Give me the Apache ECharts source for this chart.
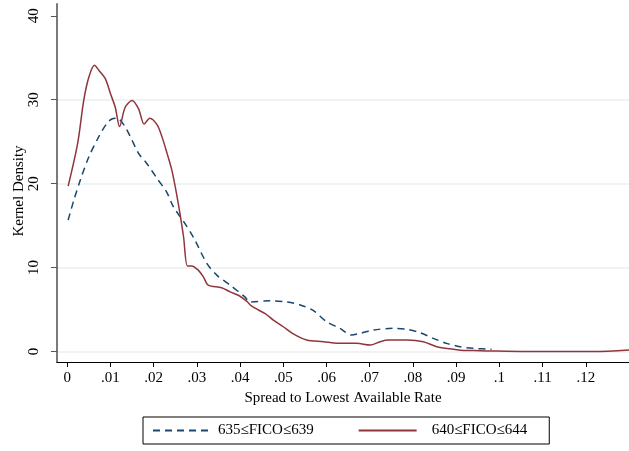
<!DOCTYPE html>
<html>
<head>
<meta charset="utf-8">
<script src="https://cdn.jsdelivr.net/npm/echarts@6/dist/echarts.min.js"></script>
<style>
html,body{margin:0;padding:0;background:#fff;}
#chart{width:629px;height:451px;}
</style>
</head>
<body>
<div id="chart"></div>
<script>
// ---- data ----
var seriesNames = ['635\u2264FICO\u2264639', '640\u2264FICO\u2264644'];

var blueX = [0.0002,0.0015,0.003,0.005,0.0073,0.0092,0.0103,0.0115,0.0131,0.0146,0.0165,0.0184,0.0208,0.023,0.0246,0.0269,0.0292,0.0323,0.0346,0.0377,0.0411,0.0423,0.0469,0.0508,0.0539,0.0569,0.06,0.0631,0.0658,0.0678,0.0708,0.0755,0.0786,0.0816,0.0847,0.0878,0.0909,0.094,0.0982];
var blueY = [15.65,18.0,20.4,23.2,25.6,27.2,27.7,27.8,27.0,25.6,23.6,22.4,20.6,19.0,17.2,15.5,13.6,10.5,9.1,7.9,6.5,5.9,6.05,5.9,5.55,4.9,3.55,2.76,1.96,2.17,2.56,2.76,2.64,2.24,1.57,0.97,0.57,0.38,0.26];

var redX = [0.0002,0.0024,0.0038,0.005,0.0063,0.0073,0.0088,0.01,0.0111,0.0121,0.0134,0.015,0.0165,0.0178,0.0191,0.0208,0.0219,0.0231,0.0242,0.0257,0.0269,0.0278,0.0288,0.0303,0.0315,0.0326,0.0357,0.0377,0.0396,0.0415,0.0427,0.0458,0.0477,0.05,0.0523,0.0554,0.0593,0.0627,0.067,0.0701,0.0724,0.0743,0.0786,0.0824,0.0855,0.0894,0.0917,0.0955,0.1063,0.1218,0.13];
var redY = [19.7,24.8,29.9,32.7,34.1,33.5,32.5,30.7,29.1,26.8,29.1,29.9,28.9,27.1,27.8,27.0,25.6,23.6,21.6,17.6,13.7,10.2,10.2,9.7,8.9,7.9,7.6,7.1,6.7,6.0,5.4,4.5,3.75,2.95,2.1,1.37,1.17,0.97,0.97,0.77,1.17,1.37,1.37,1.17,0.57,0.26,0.12,0.1,0.0,0.0,0.18];

var xTicks = [0,0.01,0.02,0.03,0.04,0.05,0.06,0.07,0.08,0.09,0.1,0.11,0.12];
var yTicks = [0,10,20,30,40];
var yGrid = [0,10,20,30];

function pairs(xs, ys){ return xs.map(function(x,i){ return [x, ys[i]]; }); }

var FONT = 'Liberation Serif';
var chart = echarts.init(document.getElementById('chart'), null, {renderer:'canvas'});
chart.setOption({
  animation: false,
  backgroundColor: '#ffffff',
  grid: {left: 57, right: 0, top: 4, bottom: 89, containLabel: false, outerBoundsMode: 'none'},
  legend: {
    left: 143, top: 417,
    orient: 'horizontal',
    padding: [6, 22, 6, 9],
    itemGap: 44,
    itemWidth: 58, itemHeight: 14,
    borderColor: '#000', borderWidth: 1,
    itemStyle: {opacity: 0},
    textStyle: {fontFamily: FONT, fontSize: 15, color: '#000', padding: [0,0,0,2]},
    data: [
      {name: seriesNames[0]},
      {name: seriesNames[1], textStyle: {padding: [0,0,0,10]}}
    ]
  },
  xAxis: {
    type: 'value',
    min: -0.00238, max: 0.13,
    name: 'Spread to Lowest Available Rate',
    nameLocation: 'middle', nameGap: 27,
    nameTextStyle: {fontFamily: FONT, fontSize: 15, color: '#000'},
    axisLine: {show: true, onZero: false, lineStyle: {color: '#000', width: 1.2}},
    axisTick: {show: true, length: 5, customValues: xTicks, lineStyle: {color: '#000'}},
    axisLabel: {
      customValues: xTicks, margin: 9,
      fontFamily: FONT, fontSize: 15, color: '#000',
      formatter: function(v){ return v === 0 ? '0' : String(+v.toFixed(4)).replace(/^0\./, '.'); }
    },
    splitLine: {show: false}
  },
  yAxis: [{
    type: 'value',
    min: -1.25, max: 41.4,
    name: 'Kernel Density',
    nameLocation: 'middle', nameGap: 30,
    nameMoveOverlap: false,
    nameTextStyle: {fontFamily: FONT, fontSize: 15, color: '#000', padding: [0, 16, 0, 0]},
    axisLine: {show: true, onZero: false, lineStyle: {color: '#7a7a7a', width: 2}},
    axisTick: {show: true, length: 6, customValues: yTicks, lineStyle: {color: '#555'}},
    axisLabel: {
      customValues: yTicks, rotate: 90, margin: 15,
      fontFamily: FONT, fontSize: 15, color: '#000'
    },
    splitLine: {show: false}
  }, {
    type: 'value',
    min: -1.25, max: 41.4,
    position: 'left',
    axisLine: {show: false, onZero: false},
    axisTick: {show: false, customValues: yGrid},
    axisLabel: {show: false, customValues: yGrid},
    splitLine: {show: true, lineStyle: {color: '#e8f0f1', width: 1.5}}
  }],
  series: [{
    name: seriesNames[0],
    type: 'line',
    data: pairs(blueX, blueY),
    showSymbol: false, symbol: 'none',
    smooth: 0.3,
    lineStyle: {color: '#1a476f', width: 1.5, type: [7, 5]},
    itemStyle: {color: '#1a476f'},
    z: 3
  }, {
    name: seriesNames[1],
    type: 'line',
    data: pairs(redX, redY),
    showSymbol: false, symbol: 'none',
    smooth: 0.3,
    lineStyle: {color: '#90353b', width: 1.5},
    itemStyle: {color: '#90353b'},
    z: 4
  }]
});
</script>
</body>
</html>
